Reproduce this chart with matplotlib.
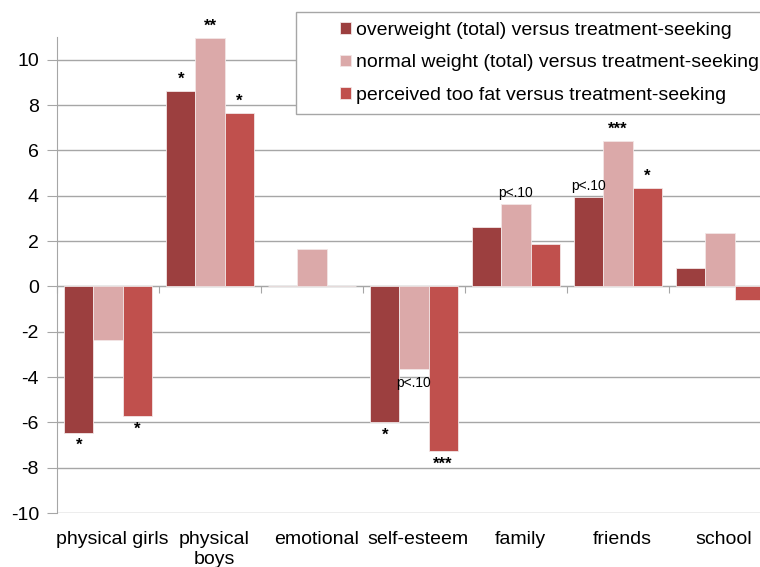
import matplotlib.pyplot as plt
from matplotlib.patches import Rectangle
import numpy as np

plt.rcParams['font.family'] = ['Liberation Sans', 'DejaVu Sans']
plt.rcParams['axes.unicode_minus'] = False

categories = ['physical girls', 'physical\nboys', 'emotional', 'self-esteem', 'family', 'friends', 'school']
series_names = ['overweight (total) versus treatment-seeking',
                'normal weight (total) versus treatment-seeking',
                'perceived too fat versus treatment-seeking']
overweight = [-6.45, 8.6, 0.02, -6.0, 2.6, 3.95, 0.82]
normal = [-2.38, 10.95, 1.63, -3.66, 3.63, 6.4, 2.35]
too_fat = [-5.72, 7.65, 0.02, -7.27, 1.85, 4.32, -0.62]
colors = ['#9c3f3f', '#dba9a9', '#c0504d']

# (category, series, label)
notes = [(0, 0, '*'), (0, 2, '*'), (1, 0, '*'), (1, 1, '**'), (1, 2, '*'),
         (3, 0, '*'), (3, 2, '***'), (4, 1, 'p<.10'), (5, 0, 'p<.10'),
         (5, 1, '***'), (5, 2, '*')]

fig = plt.figure(figsize=(7.6, 5.67), dpi=100)
ax = fig.add_axes([57 / 760, 1 - 513 / 567, 714 / 760, 476 / 567])

x = np.arange(len(categories))
w = 0.285
allvals = [overweight, normal, too_fat]
for i, vals in enumerate(allvals):
    ax.bar(x + (i - 1) * w, vals, w, color=colors[i], edgecolor='#f2e6e6',
           linewidth=0.6, label=series_names[i], zorder=3)

for c, s, t in notes:
    v = allvals[s][c]
    xx = x[c] + (s - 1) * w
    small = t.startswith('p')
    up = v >= 0
    ax.annotate(t, (xx, v), xytext=(0, 3 if up else -4), textcoords='offset points',
                ha='center', va='bottom' if up else 'top',
                fontsize=10 if small else 12,
                fontweight='normal' if small else 'bold', zorder=4)
# p<.10 for self-esteem normal weight sits under the bar
ax.annotate('p<.10', (x[3], normal[3]), xytext=(-13, -5), textcoords='offset points',
            ha='left', va='top', fontsize=10, zorder=4)

ax.set_xlim(-0.5, 6.5)
ax.set_ylim(-10, 11)
ax.set_yticks(np.arange(-10, 11, 2))
ax.yaxis.grid(True, color='#a6a6a6', linewidth=1)
ax.set_axisbelow(True)
ax.tick_params(axis='y', length=7, color='#a6a6a6', labelsize=14, pad=6)

for sp in ['top', 'right']:
    ax.spines[sp].set_visible(False)
ax.spines['left'].set_color('#a6a6a6')
ax.spines['bottom'].set_position(('data', 0))
ax.spines['bottom'].set_color('#a6a6a6')
ax.set_xticks(np.arange(-0.5, 7, 1))
ax.set_xticklabels([])
ax.tick_params(axis='x', length=5, color='#a6a6a6', direction='out')

for i, c in enumerate(categories):
    ax.annotate(c, (x[i] + 0.04, 0), xycoords=ax.get_xaxis_transform(),
                xytext=(0, -13), textcoords='offset points',
                ha='center', va='top', fontsize=14, linespacing=1.25)

fig.patches.append(Rectangle((296 / 760, 1 - 114 / 567), 0.7, 102 / 567,
                             transform=fig.transFigure, facecolor='white',
                             edgecolor='#a6a6a6', linewidth=1, zorder=5))
leg = fig.legend(loc='upper left', bbox_to_anchor=(334 / 760, 1 - 16 / 567),
                 fontsize=14, frameon=False, handlelength=0.55,
                 handleheight=0.55, handletextpad=0.3, labelspacing=0.8,
                 borderpad=0.3, borderaxespad=0)
leg.set_zorder(6)

fig.savefig('out.png', dpi=100)
